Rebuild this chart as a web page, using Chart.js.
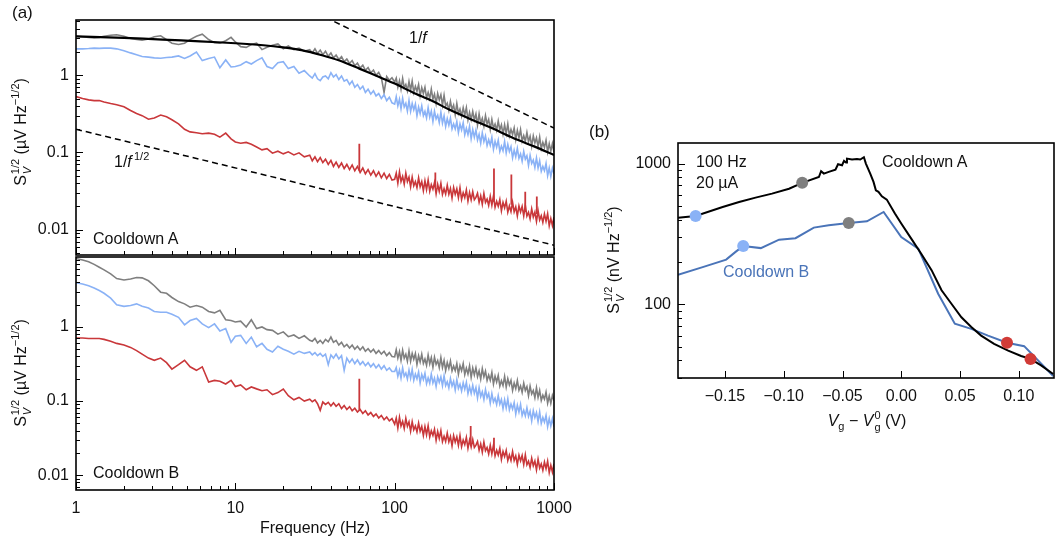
<!DOCTYPE html>
<html>
<head>
<meta charset="utf-8">
<title>Noise spectra, cooldowns A and B</title>
<script src="https://cdn.jsdelivr.net/npm/chart.js@4.4.1/dist/chart.umd.min.js"></script>
<style>
  body { margin: 0; background: #fff; font-family: "Liberation Sans", Arial, sans-serif; color: #111; }
  #fig { position: relative; width: 1060px; height: 548px; overflow: hidden; }
  .box { position: absolute; }
  .txt { position: absolute; font-size: 16px; line-height: 1; white-space: nowrap; }
  .panel { font-size: 17px; }
  .mid { transform: translate(-50%, -50%); }
  .rot { transform: translate(-50%, -50%) rotate(-90deg); }
  .sp { font-size: 11px; vertical-align: 7px; line-height: 0; }
  .ss { display: inline-flex; flex-direction: column; font-size: 11px; line-height: 1; vertical-align: 7px; margin-left: 1px; }
  .ss span:last-child { margin-top: 1px; }
  .sb { font-size: 11px; vertical-align: -4px; line-height: 0; }
</style>
</head>
<body>
<div id="fig">
  <div class="box" style="left:0;top:0;width:580px;height:258px"><canvas id="specA"></canvas></div>
  <div class="box" style="left:0;top:256px;width:580px;height:292px"><canvas id="specB"></canvas></div>
  <div class="box" style="left:600px;top:120px;width:460px;height:300px"><canvas id="gate"></canvas></div>

  <div class="txt panel" style="left:12px;top:4px">(a)</div>
  <div class="txt" style="left:409px;top:30px">1/<i>f</i></div>
  <div class="txt" style="left:114px;top:154px">1/<i>f</i><span class="sp">&thinsp;1/2</span></div>
  <div class="txt" style="left:93px;top:231px">Cooldown A</div>
  <div class="txt" style="left:93px;top:465px">Cooldown B</div>
  <div class="txt rot" style="left:21px;top:132px">S<span class="ss"><span>1/2</span><span><i>V</i></span></span> (µV Hz<span class="sp">−1/2</span>)</div>
  <div class="txt rot" style="left:21px;top:373px">S<span class="ss"><span>1/2</span><span><i>V</i></span></span> (µV Hz<span class="sp">−1/2</span>)</div>

  <div class="txt panel" style="left:589px;top:123px">(b)</div>
  <div class="txt" style="left:696px;top:154px">100 Hz</div>
  <div class="txt" style="left:696px;top:175px">20 µA</div>
  <div class="txt" style="left:882px;top:154px">Cooldown A</div>
  <div class="txt" style="left:723px;top:264px;color:#4a74b8">Cooldown B</div>
  <div class="txt rot" style="left:614px;top:260px">S<span class="ss"><span>1/2</span><span><i>V</i></span></span> (nV Hz<span class="sp">−1/2</span>)</div>
  <div class="txt mid" style="left:867px;top:421px"><i>V</i><span class="sb">g</span> − <i>V</i><span class="ss"><span>0</span><span>g</span></span> (V)</div>
</div>

<script>
/* ===== spectra: shared frequency grid (Hz) ===== */
const freq = [
  1, 1.1, 1.2, 1.3, 1.4, 1.5, 1.65, 1.8, 2.0, 2.2, 2.4, 2.6, 2.85, 3.1, 3.4, 3.7, 4.0, 4.4, 4.8, 5.2, 5.7, 6.2, 6.8, 7.4, 8.0, 8.7, 9.4,
  10, 10.8, 11.7, 12.6, 13.6, 14.7, 15.8, 17.1, 18.5, 20, 21.5, 23.3, 25.1, 27.1, 29.3,
  30.4, 31.6, 32.8, 34.1, 35.4, 36.8, 38.3, 39.8, 41.3, 42.9, 44.6, 46.4, 48.2, 50.1, 52.1, 54.1,
  56.2, 58.4, 60.7, 63.1, 65.5, 68.1, 70.8, 73.6, 76.4, 79.4, 82.5, 85.8, 89.1, 92.6, 96.2,
  100, 102.3, 104.7, 107.2, 109.6, 112.2, 114.8, 117.5, 120.2, 123.0,
  125.9, 128.8, 131.8, 134.9, 138.0, 141.3, 144.5, 147.9, 151.4, 154.9,
  158.5, 162.2, 166.0, 169.8, 173.8, 177.8, 182.0, 186.2, 190.5, 195.0,
  199.5, 204.2, 208.9, 213.8, 218.8, 223.9, 229.1, 234.4, 239.9, 245.5,
  251.2, 257.0, 263.0, 269.2, 275.4, 281.8, 288.4, 295.1, 302.0, 309.0,
  316.2, 323.6, 331.1, 338.8, 346.7, 354.8, 363.1, 371.5, 380.2, 389.0,
  398.1, 407.4, 416.9, 426.6, 436.5, 446.7, 457.1, 467.7, 478.6, 489.8,
  501.2, 512.9, 524.8, 537.0, 549.5, 562.3, 575.4, 588.8, 602.6, 616.6,
  631.0, 645.7, 660.7, 676.1, 691.8, 707.9, 724.4, 741.3, 758.6, 776.2,
  794.3, 812.8, 831.8, 851.1, 871.0, 891.3, 912.0, 933.3, 955.0, 977.2,
  1000
];

/* cooldown A, S_V^1/2 in uV/sqrt(Hz) */
const grayA = [
  3.2, 3.15, 3.1, 3.05, 3.1, 3.2, 3.3, 3.35, 3.2, 3.0, 2.9, 2.85, 2.95, 3.15, 3.25, 2.9, 2.6, 2.5, 2.6, 2.9, 3.2, 3.4, 2.9, 2.65, 2.6, 2.8, 3.1,
  2.7, 2.35, 2.3, 2.5, 2.6, 2.15, 2.3, 2.45, 2.55, 2.2, 2.4, 2.15, 2.25, 2.05, 2.15,
  1.95, 2.2, 1.92, 2.12, 1.85, 2.05, 1.76, 1.95, 1.68, 1.83, 1.6, 1.74, 1.5, 1.62, 1.42, 1.55,
  1.33, 1.44, 1.24, 1.35, 1.16, 1.26, 1.08, 1.17, 1.0, 1.09, 0.93, 0.6, 0.96, 0.86, 0.93,
  0.82, 0.92, 0.70, 0.85, 0.66, 0.91, 0.69, 0.76, 0.63, 0.83,
  0.64, 0.84, 0.60, 0.72, 0.62, 0.76, 0.54, 0.69, 0.58, 0.70,
  0.51, 0.60, 0.50, 0.66, 0.49, 0.57, 0.43, 0.58, 0.48, 0.56,
  0.41, 0.55, 0.40, 0.435, 0.35, 0.46, 0.36, 0.41, 0.31, 0.43,
  0.32, 0.365, 0.296, 0.38, 0.305, 0.38, 0.265, 0.33, 0.267, 0.34,
  0.264, 0.315, 0.228, 0.316, 0.239, 0.276, 0.219, 0.30, 0.234, 0.268,
  0.199, 0.268, 0.207, 0.233, 0.194, 0.255, 0.196, 0.228, 0.173, 0.228,
  0.176, 0.234, 0.165, 0.199, 0.171, 0.208, 0.147, 0.193, 0.155, 0.198,
  0.14, 0.165, 0.14, 0.181, 0.138, 0.162, 0.121, 0.164, 0.133, 0.155,
  0.119, 0.158, 0.112, 0.135, 0.116, 0.144, 0.102, 0.13, 0.104, 0.13,
  0.101
];
const blueA = [
  2.2, 2.2, 2.22, 2.25, 2.23, 2.25, 2.25, 2.2, 2.08, 1.95, 1.85, 1.75, 1.72, 1.68, 1.66, 1.7, 1.72, 1.78, 1.65, 1.78, 2.0, 1.55, 1.65, 1.72, 1.25, 1.58, 1.28,
  1.3, 1.36, 1.5, 1.4, 1.55, 1.68, 1.3, 1.22, 1.45, 1.5, 1.22, 1.3, 1.06, 1.15, 0.98,
  0.92, 1.05, 0.9, 0.85, 0.95, 0.98, 0.9, 1.08, 0.95, 1.02, 0.88, 0.98, 0.84, 0.88, 0.76, 0.84,
  0.7, 0.76, 0.66, 0.72, 0.6, 0.66, 0.57, 0.63, 0.54, 0.58, 0.5, 0.56, 0.47, 0.52, 0.44,
  0.423, 0.527, 0.402, 0.49, 0.37, 0.503, 0.388, 0.434, 0.344, 0.473,
  0.341, 0.431, 0.356, 0.424, 0.30, 0.388, 0.319, 0.402, 0.30, 0.341,
  0.28, 0.38, 0.287, 0.343, 0.252, 0.342, 0.273, 0.305, 0.244, 0.331,
  0.24, 0.298, 0.217, 0.274, 0.225, 0.278, 0.202, 0.235, 0.202, 0.252,
  0.181, 0.234, 0.196, 0.242, 0.17, 0.206, 0.171, 0.218, 0.151, 0.198,
  0.158, 0.195, 0.145, 0.172, 0.132, 0.18, 0.138, 0.164, 0.123, 0.146,
  0.124, 0.157, 0.11, 0.14, 0.117, 0.144, 0.103, 0.121, 0.105, 0.139,
  0.099, 0.127, 0.103, 0.119, 0.085, 0.107, 0.088, 0.113, 0.084, 0.096,
  0.077, 0.103, 0.082, 0.091, 0.068, 0.092, 0.072, 0.08, 0.064, 0.085,
  0.063, 0.078, 0.057, 0.066, 0.058, 0.072, 0.05, 0.063, 0.049, 0.063,
  0.053
];
const redA = [
  0.53, 0.5, 0.48, 0.47, 0.47, 0.45, 0.43, 0.415, 0.39, 0.35, 0.32, 0.30, 0.27, 0.28, 0.305, 0.29, 0.265, 0.235, 0.20, 0.185, 0.18, 0.175, 0.178, 0.172, 0.158, 0.178, 0.15,
  0.137, 0.132, 0.135, 0.128, 0.118, 0.108, 0.112, 0.098, 0.104, 0.096, 0.102, 0.093, 0.099, 0.088, 0.092,
  0.078, 0.088, 0.076, 0.086, 0.074, 0.082, 0.07, 0.079, 0.066, 0.075, 0.064, 0.073, 0.062, 0.07, 0.06, 0.069,
  0.058, 0.066, 0.055, 0.063, 0.053, 0.06, 0.051, 0.058, 0.049, 0.056, 0.047, 0.054, 0.046, 0.052, 0.044,
  0.045, 0.054, 0.040, 0.056, 0.042, 0.049, 0.039, 0.054, 0.042, 0.048,
  0.036, 0.048, 0.037, 0.042, 0.035, 0.047, 0.036, 0.042, 0.032, 0.043,
  0.033, 0.044, 0.0315, 0.0384, 0.0334, 0.0407, 0.0291, 0.0385, 0.0313, 0.04,
  0.0286, 0.0339, 0.0289, 0.0376, 0.0288, 0.0342, 0.0257, 0.0352, 0.0287, 0.0338,
  0.026, 0.0349, 0.0247, 0.0301, 0.026, 0.0327, 0.0234, 0.0302, 0.0243, 0.031,
  0.0244, 0.0262, 0.0296, 0.0226, 0.0275, 0.0214, 0.0295, 0.0226, 0.0249, 0.0206,
  0.027, 0.0208, 0.0274, 0.0195, 0.0233, 0.0201, 0.0246, 0.0176, 0.0226, 0.0192,
  0.0234, 0.0169, 0.0203, 0.0171, 0.0226, 0.017, 0.0198, 0.0151, 0.0203, 0.017,
  0.0201, 0.0151, 0.0206, 0.015, 0.0168, 0.0138, 0.0186, 0.0146, 0.0169, 0.0128,
  0.0177, 0.0134, 0.0152, 0.0124, 0.016, 0.0129, 0.0161, 0.0112, 0.014, 0.0113,
  0.0145
];
/* line pickup in the red trace: frequency, floor, peak */
const spikeFreqA = [60, 180, 420, 540, 660, 780];
const spikeBaseA = [0.058, 0.036, 0.023, 0.021, 0.017, 0.016];
const spikeTopA = [0.13, 0.055, 0.062, 0.052, 0.031, 0.027];

/* fit through the gray trace */
const fitFreq = [1, 2, 3.5, 6, 10, 15, 20, 26, 35, 45, 60, 80, 100, 130, 170, 220, 300, 400, 550, 750, 1000];
const fitA = [3.2, 3.05, 2.9, 2.75, 2.6, 2.45, 2.3, 2.12, 1.82, 1.55, 1.22, 0.95, 0.78, 0.6, 0.47, 0.36, 0.27, 0.21, 0.155, 0.12, 0.093];

/* guide lines 1/f and 1/f^1/2 (end points) */
const slopeOneFreq = [10, 1000];
const slopeOneVal = [20.7, 0.207];
const slopeHalfFreq = [1, 1000];
const slopeHalfVal = [0.2, 0.0063];

/* cooldown B */
const grayB = [
  8.4, 8.0, 7.6, 7.0, 6.4, 5.9, 5.2, 4.5, 4.3, 4.45, 4.65, 4.6, 4.2, 3.6, 2.95, 2.85, 2.5, 2.2, 2.05, 1.85, 1.95, 1.85, 1.62, 1.55, 1.68, 1.25, 1.22,
  1.17, 1.2, 1.0, 1.25, 0.95, 1.0, 0.92, 0.9, 0.8, 0.86, 0.74, 0.78, 0.7, 0.76, 0.66,
  0.64, 0.7, 0.61, 0.66, 0.6, 0.68, 0.63, 0.73, 0.62, 0.66, 0.57, 0.62, 0.54, 0.58, 0.52, 0.57,
  0.5, 0.55, 0.49, 0.54, 0.47, 0.51, 0.46, 0.5, 0.44, 0.48, 0.43, 0.47, 0.41, 0.45, 0.4,
  0.396, 0.494, 0.38, 0.465, 0.353, 0.485, 0.379, 0.428, 0.344, 0.475,
  0.345, 0.44, 0.366, 0.438, 0.313, 0.408, 0.337, 0.428, 0.322, 0.37,
  0.305, 0.418, 0.319, 0.385, 0.286, 0.39, 0.312, 0.352, 0.283, 0.387,
  0.284, 0.353, 0.259, 0.331, 0.276, 0.347, 0.255, 0.297, 0.257, 0.321,
  0.231, 0.302, 0.257, 0.32, 0.228, 0.278, 0.232, 0.298, 0.209, 0.279,
  0.226, 0.282, 0.214, 0.255, 0.198, 0.273, 0.212, 0.253, 0.19, 0.225,
  0.191, 0.243, 0.17, 0.217, 0.181, 0.222, 0.159, 0.188, 0.162, 0.215,
  0.155, 0.20, 0.165, 0.191, 0.139, 0.175, 0.147, 0.189, 0.14, 0.16,
  0.131, 0.174, 0.139, 0.157, 0.118, 0.159, 0.125, 0.139, 0.111, 0.151,
  0.112, 0.139, 0.102, 0.12, 0.106, 0.132, 0.094, 0.117, 0.093, 0.119,
  0.102
];
const blueB = [
  3.95, 3.8, 3.6, 3.35, 3.1, 2.85, 2.45, 2.0, 1.9, 1.95, 2.05, 1.9, 1.8, 1.62, 1.58, 1.58, 1.48, 1.35, 1.07, 1.22, 1.3, 1.1, 0.98, 1.1, 0.88, 0.95, 0.62,
  0.75, 0.77, 0.6, 0.73, 0.54, 0.6, 0.5, 0.46, 0.55, 0.5, 0.47, 0.43, 0.47, 0.44, 0.46,
  0.42, 0.45, 0.41, 0.44, 0.4, 0.43, 0.31, 0.42, 0.38, 0.43, 0.37, 0.41, 0.26, 0.38, 0.33, 0.37,
  0.32, 0.36, 0.31, 0.34, 0.3, 0.33, 0.29, 0.32, 0.28, 0.31, 0.27, 0.3, 0.26, 0.28, 0.25,
  0.25, 0.282, 0.216, 0.262, 0.204, 0.28, 0.216, 0.239, 0.198, 0.262,
  0.203, 0.267, 0.191, 0.231, 0.20, 0.247, 0.176, 0.228, 0.195, 0.237,
  0.172, 0.206, 0.174, 0.231, 0.175, 0.204, 0.157, 0.212, 0.179, 0.212,
  0.161, 0.22, 0.162, 0.182, 0.15, 0.202, 0.16, 0.185, 0.141, 0.195,
  0.148, 0.169, 0.137, 0.177, 0.144, 0.179, 0.126, 0.157, 0.127, 0.163,
  0.127, 0.152, 0.11, 0.152, 0.115, 0.133, 0.105, 0.143, 0.111, 0.127,
  0.094, 0.126, 0.097, 0.109, 0.09, 0.118, 0.091, 0.105, 0.079, 0.104,
  0.081, 0.107, 0.076, 0.091, 0.078, 0.095, 0.067, 0.088, 0.071, 0.09,
  0.064, 0.075, 0.063, 0.081, 0.062, 0.073, 0.054, 0.074, 0.06, 0.07,
  0.053, 0.071, 0.05, 0.06, 0.052, 0.064, 0.045, 0.058, 0.046, 0.058,
  0.045
];
const redB = [
  0.71, 0.71, 0.70, 0.70, 0.70, 0.68, 0.64, 0.60, 0.57, 0.53, 0.48, 0.43, 0.38, 0.355, 0.38, 0.33, 0.27, 0.31, 0.355, 0.29, 0.26, 0.29, 0.18, 0.19, 0.185, 0.17, 0.19,
  0.157, 0.165, 0.142, 0.155, 0.146, 0.138, 0.142, 0.122, 0.13, 0.145, 0.118, 0.104, 0.112, 0.1, 0.106,
  0.098, 0.104, 0.092, 0.075, 0.097, 0.09, 0.096, 0.086, 0.095, 0.085, 0.092, 0.079, 0.087, 0.077, 0.084, 0.074,
  0.08, 0.071, 0.077, 0.068, 0.074, 0.065, 0.07, 0.062, 0.067, 0.059, 0.064, 0.056, 0.061, 0.054, 0.058,
  0.0488, 0.0588, 0.0432, 0.0603, 0.0459, 0.0532, 0.0426, 0.0585, 0.0456, 0.0524,
  0.0391, 0.0526, 0.041, 0.046, 0.0383, 0.0504, 0.0391, 0.0453, 0.0344, 0.0453,
  0.0351, 0.0465, 0.0329, 0.0397, 0.0343, 0.0416, 0.0296, 0.0388, 0.0313, 0.0399,
  0.0284, 0.0335, 0.0285, 0.0369, 0.0282, 0.0332, 0.0249, 0.0342, 0.0279, 0.0329,
  0.0253, 0.0342, 0.0243, 0.0297, 0.0258, 0.0323, 0.023, 0.0297, 0.0239, 0.0303,
  0.0236, 0.0254, 0.0285, 0.0217, 0.0264, 0.0204, 0.028, 0.0214, 0.0236, 0.0193,
  0.0253, 0.0194, 0.0254, 0.0182, 0.0217, 0.0187, 0.023, 0.0163, 0.0209, 0.0178,
  0.0216, 0.0157, 0.0187, 0.0158, 0.0208, 0.0157, 0.0182, 0.0139, 0.0186, 0.0156,
  0.0184, 0.0139, 0.0188, 0.0138, 0.0154, 0.0127, 0.0169, 0.0134, 0.0155, 0.0118,
  0.0164, 0.0125, 0.0142, 0.0116, 0.015, 0.0122, 0.0154, 0.0108, 0.0136, 0.011,
  0.0143
];
const spikeFreqB = [60, 300, 420];
const spikeBaseB = [0.075, 0.027, 0.022];
const spikeTopB = [0.2, 0.046, 0.032];

/* ===== noise at 100 Hz vs gate voltage (nV/sqrt(Hz)) ===== */
const gateA = [
  -0.19, -0.175, -0.152, -0.138, -0.124, -0.110, -0.0955, -0.0843, -0.0701, -0.0682, -0.0659, -0.0617, -0.056, -0.0538, -0.0504,
  -0.0487, -0.047, -0.0462, -0.0419, -0.0377, -0.0349, -0.0318, -0.0301, -0.0264, -0.0236, -0.0216, -0.0194, -0.0165, -0.0123,
  -0.0054, 0.0, 0.0085, 0.017, 0.0258, 0.0343, 0.0427, 0.0512, 0.0596, 0.068, 0.079, 0.091, 0.102, 0.110, 0.119, 0.1293
];
const noiseA = [
  413, 425, 492, 533, 573, 612, 663, 730, 803, 882, 849, 873, 906, 989, 973,
  1045, 1016, 1085, 1068, 1079, 1068, 1109, 1000, 849, 741, 646, 630, 586, 555,
  442, 375, 293, 229, 175, 126, 101, 81, 69, 60, 52.5, 47, 43, 41, 36.9, 32
];
const gateB = [
  -0.19, -0.169, -0.149, -0.141, -0.1345, -0.1195, -0.104, -0.090, -0.0744, -0.0617, -0.0447,
  -0.0292, -0.015, 0.0, 0.0145, 0.0314, 0.0456, 0.0596, 0.0738, 0.090, 0.1046, 0.1293
];
const noiseB = [
  162, 184, 208, 236, 260, 251, 288, 295, 351, 365, 379,
  389, 453, 301, 249, 119, 73, 67, 60, 53.4, 50.5, 31
];
/* operating points whose spectra are shown on the left */
const dotGate = [-0.175, -0.1345, -0.0843, -0.0447, 0.110, 0.090];
const dotNoise = [425, 260, 730, 379, 41, 53.4];

/* ===== ticks ===== */
const freqTicks = [1, 10, 100, 1000];
const freqLabels = ['1', '10', '100', '1000'];
const noiseTicks = [0.01, 0.1, 1];
const noiseLabels = ['0.01', '0.1', '1'];
const gateTicks = [-0.15, -0.10, -0.05, 0, 0.05, 0.10];
const gateLabels = ['−0.15', '−0.10', '−0.05', '0.00', '0.05', '0.10'];
const nvTicks = [100, 1000];
const nvLabels = ['100', '1000'];

const minorOf = decades => decades.flatMap(d => [2, 3, 4, 5, 6, 7, 8, 9].map(k => +(d * k).toPrecision(3)));

const GRAY = '#7f7f7f', BLUE = '#8ab2f6', RED = '#c9373a', STEEL = '#4a74b8';

Chart.defaults.font.family = '"Liberation Sans", Arial, sans-serif';
Chart.defaults.font.size = 16;
Chart.defaults.color = '#111';

const pts = (xs, ys) => xs.map((x, i) => ({ x, y: ys[i] }));
const spikes = (fs, lo, hi) => fs.flatMap((f, i) => [{ x: f, y: lo[i] }, { x: f, y: hi[i] }, { x: f, y: null }]);

/* fixed axis box, no extra room for overhanging labels */
const fixSize = (w, h) => s => {
  if (w !== null) s.width = w;
  if (h !== null) s.height = h;
  s.paddingTop = s.paddingBottom = s.paddingLeft = s.paddingRight = 0;
};

/* inward tick marks + closed frame */
const innerTicks = {
  id: 'innerTicks',
  afterDatasetsDraw(chart, args, opts) {
    const { ctx, chartArea: a } = chart;
    ctx.save();
    ctx.strokeStyle = '#000';
    ctx.lineWidth = 1;
    Object.keys(opts.axes || {}).forEach(id => {
      const scale = chart.scales[id];
      const ax = opts.axes[id];
      const lo = Math.min(scale.min, scale.max), hi = Math.max(scale.min, scale.max);
      const draw = (vals, len) => vals.filter(v => v >= lo && v <= hi).forEach(v => {
        const p = Math.round(scale.getPixelForValue(v)) + 0.5;
        ctx.beginPath();
        if (scale.isHorizontal()) { ctx.moveTo(p, a.bottom); ctx.lineTo(p, a.bottom - len); }
        else { ctx.moveTo(a.left, p); ctx.lineTo(a.left + len, p); }
        ctx.stroke();
      });
      draw(ax.major, ax.majorLen);
      draw(ax.minor || [], ax.minorLen);
    });
    ctx.lineWidth = 1.6;
    ctx.strokeRect(a.left, a.top, a.right - a.left, a.bottom - a.top);
    ctx.restore();
  }
};

function spectrumPanel(id, cfg) {
  return new Chart(document.getElementById(id), {
    type: 'line',
    data: { datasets: cfg.datasets },
    options: {
      responsive: true,
      maintainAspectRatio: false,
      animation: false,
      layout: { padding: cfg.padding },
      elements: { point: { radius: 0 }, line: { borderWidth: 1.6, tension: 0 } },
      plugins: {
        legend: { display: false },
        tooltip: { enabled: false },
        innerTicks: {
          axes: {
            x: { major: freqTicks, minor: minorOf([1, 10, 100]), majorLen: 7, minorLen: 4 },
            y: { major: noiseTicks, minor: minorOf([0.001, 0.01, 0.1, 1]), majorLen: 7, minorLen: 4 }
          }
        }
      },
      scales: {
        x: {
          type: 'logarithmic', min: 1, max: 1000,
          grid: { display: false, drawTicks: false }, border: { display: false },
          afterBuildTicks: s => { s.ticks = freqTicks.map(v => ({ value: v })); },
          afterFit: fixSize(null, cfg.xHeight),
          ticks: { display: cfg.xLabels, autoSkip: false, maxRotation: 0, padding: 9, callback: (v, i) => freqLabels[i] },
          title: { display: cfg.xLabels, text: 'Frequency (Hz)', padding: { top: 0, bottom: 10 } }
        },
        y: {
          type: 'logarithmic', min: cfg.yMin, max: cfg.yMax,
          grid: { display: false, drawTicks: false }, border: { display: false },
          afterBuildTicks: s => { s.ticks = noiseTicks.map(v => ({ value: v })); },
          afterFit: fixSize(76, null),
          ticks: { autoSkip: false, padding: 7, callback: (v, i) => noiseLabels[i] }
        }
      }
    },
    plugins: [innerTicks]
  });
}

/* ===== (a) top: cooldown A ===== */
spectrumPanel('specA', {
  padding: { top: 20, right: 26, left: 0, bottom: 0 },
  xHeight: 3, xLabels: false, yMin: 0.0047, yMax: 5.2,
  datasets: [
    { data: pts(fitFreq, fitA), borderColor: '#000', borderWidth: 2.2, tension: 0.3 },
    { data: pts(slopeOneFreq, slopeOneVal), borderColor: '#000', borderWidth: 1.5, borderDash: [6, 4] },
    { data: pts(slopeHalfFreq, slopeHalfVal), borderColor: '#000', borderWidth: 1.5, borderDash: [6, 4] },
    { data: spikes(spikeFreqA, spikeBaseA, spikeTopA), borderColor: RED, borderWidth: 1.8 },
    { data: pts(freq, redA), borderColor: RED },
    { data: pts(freq, blueA), borderColor: BLUE },
    { data: pts(freq, grayA), borderColor: GRAY }
  ]
});

/* ===== (a) bottom: cooldown B ===== */
spectrumPanel('specB', {
  padding: { top: 1, right: 26, left: 0, bottom: 0 },
  xHeight: 58, xLabels: true, yMin: 0.0063, yMax: 8.8,
  datasets: [
    { data: spikes(spikeFreqB, spikeBaseB, spikeTopB), borderColor: RED, borderWidth: 1.8 },
    { data: pts(freq, redB), borderColor: RED },
    { data: pts(freq, blueB), borderColor: BLUE },
    { data: pts(freq, grayB), borderColor: GRAY }
  ]
});

/* ===== (b) noise vs gate voltage ===== */
new Chart(document.getElementById('gate'), {
  type: 'line',
  data: {
    datasets: [
      {
        data: pts(dotGate, dotNoise), showLine: false, pointRadius: 6, pointBorderWidth: 0,
        pointBackgroundColor: [BLUE, BLUE, GRAY, GRAY, '#d13b37', '#d13b37']
      },
      { data: pts(gateA, noiseA), borderColor: '#000', borderWidth: 2 },
      { data: pts(gateB, noiseB), borderColor: STEEL, borderWidth: 2 }
    ]
  },
  options: {
    responsive: true,
    maintainAspectRatio: false,
    animation: false,
    layout: { padding: { top: 23, right: 3, left: 0, bottom: 0 } },
    elements: { point: { radius: 0 }, line: { tension: 0 } },
    plugins: {
      legend: { display: false },
      tooltip: { enabled: false },
      innerTicks: {
        axes: {
          x: { major: gateTicks, majorLen: 7 },
          y: { major: nvTicks, minor: minorOf([10, 100]), majorLen: 7, minorLen: 4 }
        }
      }
    },
    scales: {
      x: {
        type: 'linear', min: -0.19, max: 0.13,
        grid: { display: false, drawTicks: false }, border: { display: false },
        afterBuildTicks: s => { s.ticks = gateTicks.map(v => ({ value: v })); },
        afterFit: fixSize(null, 42),
        ticks: { autoSkip: false, maxRotation: 0, padding: 9, callback: (v, i) => gateLabels[i] }
      },
      y: {
        type: 'logarithmic', min: 30, max: 1400,
        grid: { display: false, drawTicks: false }, border: { display: false },
        afterBuildTicks: s => { s.ticks = nvTicks.map(v => ({ value: v })); },
        afterFit: fixSize(78, null),
        ticks: { autoSkip: false, padding: 7, callback: (v, i) => nvLabels[i] }
      }
    }
  },
  plugins: [innerTicks]
});
</script>
</body>
</html>
